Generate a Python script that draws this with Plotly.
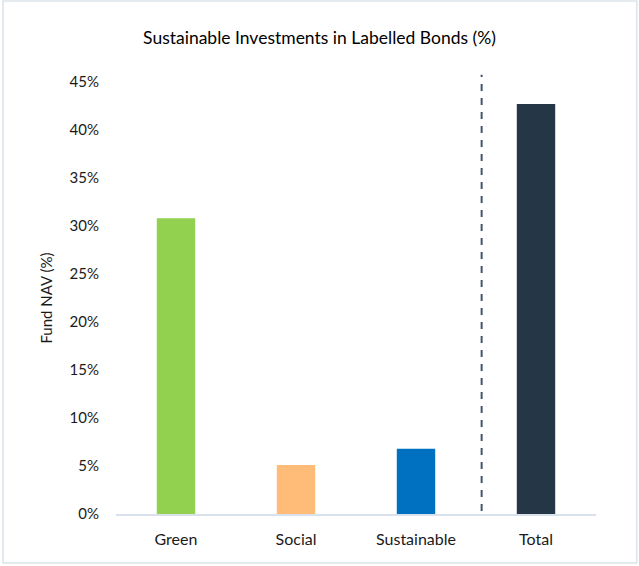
"""
Sustainable investments in labelled bonds - bar chart.
"""
import plotly.graph_objects as go

# Dados
categories = ["Green", "Social", "Sustainable", "Total"]
values = [30.8, 5.1, 6.8, 42.7]
bar_colors = ["#92D050", "#FFBC78", "#0070C0", "#253746"]
y_ticks = [0, 5, 10, 15, 20, 25, 30, 35, 40, 45]
y_tick_labels = [f"{v}%" for v in y_ticks]

FONT = "Lato, 'Open Sans', sans-serif"

fig = go.Figure()

fig.add_trace(go.Bar(
    x=categories,
    y=values,
    marker=dict(color=bar_colors, line=dict(width=0)),
    width=0.32,
    showlegend=False,
    hoverinfo="x+y"
))

# Linha tracejada separando o total
fig.add_shape(
    type="line", xref="x", yref="paper",
    x0=2.547, x1=2.547, y0=0.007, y1=1.017,
    line=dict(color="#44546A", width=2, dash="7px,7px")
)

# Borda do gráfico
fig.add_shape(
    type="rect", xref="paper", yref="paper",
    x0=-0.2354, x1=1.085, y0=-0.1134, y1=1.1875,
    line=dict(color="#DDE3EA", width=1.5)
)

fig.update_layout(
    width=639,
    height=566,
    margin=dict(l=116, r=43, t=82, b=52),
    paper_bgcolor="white",
    plot_bgcolor="white",
    font=dict(family=FONT, color="#1a1a1a"),
    title=dict(
        text="Sustainable Investments in Labelled Bonds (%)",
        x=0.5, xanchor="center", y=0.933, yanchor="middle",
        font=dict(family=FONT, size=17.5, color="#000000")
    ),
    xaxis=dict(
        showgrid=False,
        showline=True,
        linecolor="#D9E1EC",
        linewidth=2,
        ticks="",
        tickfont=dict(size=16, color="#1a1a1a"),
        ticklabelstandoff=10
    ),
    yaxis=dict(
        range=[0, 45],
        tickvals=y_ticks,
        ticktext=y_tick_labels,
        showgrid=False,
        zeroline=False,
        showline=False,
        ticks="",
        tickfont=dict(size=15, color="#1a1a1a"),
        ticklabelstandoff=16,
        title=dict(text="Fund NAV (%)", font=dict(size=15, color="#1a1a1a"), standoff=13)
    ),
    bargap=0.68
)

# remove a margem padrão do body para alinhar com a janela
fig.write_html(
    "out.html",
    config={"displayModeBar": False},
    post_script="document.body.style.margin='0';"
)
